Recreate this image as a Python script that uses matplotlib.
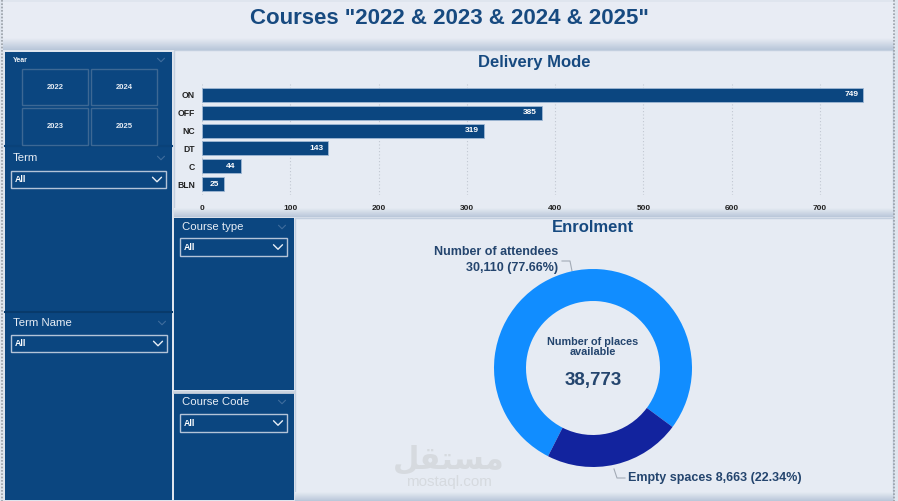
import matplotlib
matplotlib.use('Agg')
import matplotlib.pyplot as plt
from matplotlib.patches import Rectangle
import matplotlib.font_manager as fm
import numpy as np

# ---------------- data ----------------
title = 'Courses "2022 & 2023 & 2024 & 2025"'
modes = ['ON', 'OFF', 'NC', 'DT', 'C', 'BLN']
mode_counts = [749, 385, 319, 143, 44, 25]
mode_ticks = [0, 100, 200, 300, 400, 500, 600, 700]
enrol_labels = ['Number of attendees', 'Empty spaces']
enrol_values = [30110, 8663]
center_label = 'Number of places\navailable'
years = ['2022', '2024', '2023', '2025']
dropdown_value = 'All'

# ---------------- style ----------------
names = {f.name for f in fm.fontManager.ttflist}
FONT = 'Liberation Sans' if 'Liberation Sans' in names else 'DejaVu Sans'
plt.rcParams['font.family'] = [FONT, 'DejaVu Sans']

W, H = 898, 501
PANEL = '#0b4680'
LIGHT = '#e6ebf3'
TITLE_C = '#174a80'
LABEL_C = '#24456e'

fig = plt.figure(figsize=(W / 100, H / 100), dpi=100)
fig.patch.set_facecolor('#dfe5ee')


def px_axes(x0, y0, x1, y1, z=1):
    return fig.add_axes([x0 / W, 1 - y1 / H, (x1 - x0) / W, (y1 - y0) / H], zorder=z)


bg = px_axes(0, 0, W, H, z=0)
bg.set_xlim(0, W)
bg.set_ylim(H, 0)
bg.axis('off')


def rect(x0, y0, x1, y1, fc, ec='none', lw=0, z=1, **kw):
    bg.add_patch(Rectangle((x0, y0), x1 - x0, y1 - y0, facecolor=fc, edgecolor=ec, lw=lw, zorder=z, **kw))


def vgrad(x0, y0, x1, y1, c0, c1, z=1):
    from matplotlib.colors import to_rgb
    a, b = np.array(to_rgb(c0)), np.array(to_rgb(c1))
    t = np.linspace(0, 1, 32)[:, None, None]
    img = a * (1 - t) + b * t
    bg.imshow(img, extent=(x0, x1, y1, y0), aspect='auto', zorder=z, interpolation='bilinear')


# title band
rect(3, 2, 894, 48, '#e8ecf4', z=1)
vgrad(3, 38, 894, 50, '#e8ecf4', '#b8c6d9', z=1.1)
bg.text(449, 18, title, ha='center', va='center', color=TITLE_C,
        fontsize=16, fontweight='bold', zorder=5)

# dotted outer borders
bg.plot([2, 2], [0, H], ls=(0, (1, 1)), color='#9aa0a8', lw=1.2, zorder=6)
bg.plot([894, 894], [0, H], ls=(0, (1, 1)), color='#9aa0a8', lw=1.2, zorder=6)

# light chart panels
rect(174, 50, 893, 216, LIGHT, ec='#c3cfdf', lw=1, z=1.5)
vgrad(174, 208, 893, 217, LIGHT, '#b9c7d9', z=1.6)
rect(295, 218, 893, 500, LIGHT, ec='#c3cfdf', lw=1, z=1.5)
vgrad(295, 492, 893, 501, LIGHT, '#b9c7d9', z=1.6)

# dark slicer panels
rect(5, 52, 172, 147, PANEL, z=2)
rect(5, 147, 172, 311, PANEL, z=2)
rect(5, 313, 172, 500, PANEL, z=2)
rect(174, 218, 294, 390, PANEL, z=2)
rect(174, 393, 294, 500, PANEL, z=2)
bg.plot([5, 172], [146, 146], color='#0a4279', lw=1.5, zorder=2.1)
bg.plot([5, 172], [312, 312], color='#083a6b', lw=1.5, zorder=2.1)
bg.plot([174, 294], [391.5, 391.5], color='#c9d2de', lw=2, zorder=2.1)


def chevron(cx, cy, w, h, color, lw=1.0):
    bg.plot([cx - w / 2, cx, cx + w / 2], [cy - h / 2, cy + h / 2, cy - h / 2],
            color=color, lw=lw, zorder=4, solid_capstyle='round')


# Year slicer
bg.text(13, 60, 'Year', ha='left', va='center', color='#eef2f7', fontsize=5, fontweight='bold', zorder=4)
chevron(161, 60, 7, 3.5, '#3f6c9c', 0.8)
cols = [(22, 88), (91, 157)]
rows = [(69, 105), (108, 145)]
for k, yr in enumerate(years):
    r, c = divmod(k, 2)
    x0, x1 = cols[c]
    y0, y1 = rows[r]
    rect(x0, y0, x1, y1, 'none', ec='#3d6894', lw=1.0, z=3)
    bg.text((x0 + x1) / 2, (y0 + y1) / 2, yr, ha='center', va='center',
            color='#e6ecf4', fontsize=5.5, fontweight='bold', zorder=4)


def dropdown(label, lx, ly, bx0, by0, bx1, by1):
    bg.text(lx, ly, label, ha='left', va='center', color='#e8eef6', fontsize=8.2, zorder=4)
    chevron(bx1 - 5, ly, 7, 3.5, '#3f6c9c', 0.8)
    rect(bx0, by0, bx1, by1, 'none', ec='#b4c4d8', lw=1.0, z=3)
    bg.text(bx0 + 4, (by0 + by1) / 2, dropdown_value, ha='left', va='center',
            color='white', fontsize=6.3, fontweight='bold', zorder=4)
    chevron(bx1 - 9, (by0 + by1) / 2, 9, 4.5, '#e8eef6', 1.0)


dropdown('Term', 13, 158, 11, 171, 166, 188)
dropdown('Term Name', 13, 323, 11, 335, 167, 352)
dropdown('Course type', 182, 227, 180, 238, 287, 256)
dropdown('Course Code', 182, 402, 180, 414, 287, 432)

# ---------------- Delivery Mode bar chart ----------------
bg.text(534, 62, 'Delivery Mode', ha='center', va='center', color=TITLE_C,
        fontsize=12, fontweight='bold', zorder=5)
px_per_unit = (820 - 202) / 700.0
axb = px_axes(202, 84.3, 872, 194.7, z=3)
axb.set_facecolor('none')
ypos = np.arange(len(modes))
axb.barh(ypos, mode_counts, height=0.78, color=PANEL, edgecolor='#9fb8d4', lw=0.6, zorder=3)
axb.set_ylim(len(modes) - 0.4, -0.6)
axb.set_xlim(0, (872 - 202) / px_per_unit)
axb.set_xticks(mode_ticks)
axb.set_xticklabels([str(t) for t in mode_ticks], fontsize=6, fontweight='bold', color='#222')
axb.set_yticks(ypos)
axb.set_yticklabels(modes, fontsize=6.2, fontweight='bold', color='#222')
axb.tick_params(axis='x', length=0, pad=7.5)
axb.tick_params(axis='y', length=0, pad=5)
axb.xaxis.grid(True, ls=(0, (1, 2)), color='#c2c8d2', lw=0.8, zorder=0)
axb.set_axisbelow(True)
for s in axb.spines.values():
    s.set_visible(False)
for i, v in enumerate(mode_counts):
    axb.text(v - 5 / px_per_unit, i, str(v), ha='right', va='center', color='white',
             fontsize=6, fontweight='bold', zorder=4)

# ---------------- Enrolment donut ----------------
bg.text(593, 228, 'Enrolment', ha='center', va='center', color=TITLE_C,
        fontsize=12, fontweight='bold', zorder=5)
cx, cy, R = 593, 368, 100
axd = px_axes(cx - R, cy - R, cx + R, cy + R, z=3)
axd.set_facecolor('none')
axd.pie(enrol_values, colors=['#118dff', '#12239e'], startangle=-117, counterclock=False,
        radius=0.99, wedgeprops=dict(width=0.32, edgecolor='none'))
axd.set_xlim(-1, 1)
axd.set_ylim(-1, 1)
axd.axis('off')

total = sum(enrol_values)
pcts = [v / total * 100 for v in enrol_values]
bg.text(558, 252, enrol_labels[0], ha='right', va='center', color=LABEL_C,
        fontsize=9, fontweight='bold', zorder=5)
bg.text(558, 268, f'{enrol_values[0]:,} ({pcts[0]:.2f}%)', ha='right', va='center',
        color=LABEL_C, fontsize=9, fontweight='bold', zorder=5)
bg.plot([562, 570, 572], [261, 261, 271], color='#a3abb6', lw=0.8, zorder=5)
bg.text(628, 478, f'{enrol_labels[1]} {enrol_values[1]:,} ({pcts[1]:.2f}%)', ha='left',
        va='center', color=LABEL_C, fontsize=9, fontweight='bold', zorder=5)
bg.plot([614, 617, 625], [469, 478, 478], color='#a3abb6', lw=0.8, zorder=5)

bg.text(cx, 347, center_label, ha='center', va='center', color=LABEL_C,
        fontsize=7.8, fontweight='bold', linespacing=1.05, zorder=5)
bg.text(cx, 380, f'{total:,}', ha='center', va='center', color=LABEL_C,
        fontsize=13.5, fontweight='bold', zorder=5)

# watermark
bg.text(449, 459, '\uFEDE\uFED8\uFE98\uFEB4\uFEE3', ha='center', va='center', color='#d6dadf',
        fontsize=22, fontweight='bold', family=['DejaVu Sans'], zorder=2.5)
bg.text(449, 482, 'mostaql.com', ha='center', va='center', color='#d6dadf',
        fontsize=11, zorder=2.5)

fig.savefig('out.png', dpi=100, facecolor=fig.get_facecolor())
